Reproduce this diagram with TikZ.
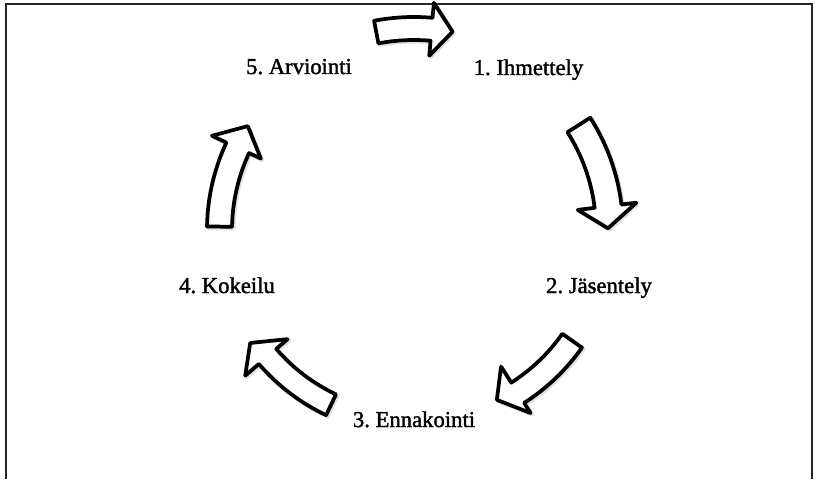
\documentclass[tikz,border=0pt]{standalone}
\usepackage{fontspec}
\setmainfont{Liberation Serif}
\newfontfamily\labelfont{Liberation Serif}[FakeBold=1.6]
\frenchspacing
\begin{document}
\begin{tikzpicture}[x=0.75pt,y=0.75pt,
  blockarrow/.style={draw=black,fill=white,line width=2.8pt,line join=round},
  blockshadow/.style={draw=black!30,fill=black!30,line width=3pt,line join=round,opacity=0.4},
  frameline/.style={draw=black!85,line width=1.5pt},
  steplabel/.style={font=\labelfont\fontsize{17}{20}\selectfont,anchor=base,inner sep=0pt,text=black}]
\useasboundingbox (0,0) rectangle (817,479);
% frame (open at the bottom)
\draw[frameline] (5.5,0) -- (5.5,474.5) -- (811.5,474.5) -- (811.5,0);
% curved block arrow: tail, neck, tip angles; inner, outer body radius; inner, outer head radius; tip radius
\newcommand{\cyclearrow}[9][blockarrow]{%
  \path[#1] (#2:#6) arc[start angle=#2, end angle=#3, radius=#6*0.75pt]
    -- (#3:#8) -- (#4:#9) -- (#3:#7) -- (#3:#5)
    arc[start angle=#3, end angle=#2, radius=#5*0.75pt] -- cycle;}
\begin{scope}[shift={(415.5,247.5)}]
  \cyclearrow[blockshadow]{100.8}{85}{79}{190}{213}{175}{228}{202}
  \cyclearrow[blockshadow]{32.5}{7}{0.5}{182}{209}{165}{224}{194}
  \cyclearrow[blockshadow]{-35}{-57.5}{-64}{181}{205}{162}{217}{189}
  \cyclearrow[blockshadow]{-115.4}{-139.2}{-145.4}{182}{205}{167}{223}{199}
  \cyclearrow[blockshadow]{179}{155}{148}{182}{207}{169}{223}{196}
\end{scope}
\begin{scope}[shift={(414,249)}]
  \cyclearrow{100.8}{85}{79}{190}{213}{175}{228}{202}
  \cyclearrow{32.5}{7}{0.5}{182}{209}{165}{224}{194}
  \cyclearrow{-35}{-57.5}{-64}{181}{205}{162}{217}{189}
  \cyclearrow{-115.4}{-139.2}{-145.4}{182}{205}{167}{223}{199}
  \cyclearrow{179}{155}{148}{182}{207}{169}{223}{196}
\end{scope}
% labels
\node[steplabel] (ihmettely) at (528.5,404) {1. Ihmettely};
\node[steplabel] (jasentely) at (599,186) {2. Jäsentely};
\node[steplabel] (ennakointi) at (414,52) {3. Ennakointi};
\node[steplabel] (kokeilu) at (227,186) {4. Kokeilu};
\node[steplabel] (arviointi) at (299,405) {5. Arviointi};
\end{tikzpicture}
\end{document}
